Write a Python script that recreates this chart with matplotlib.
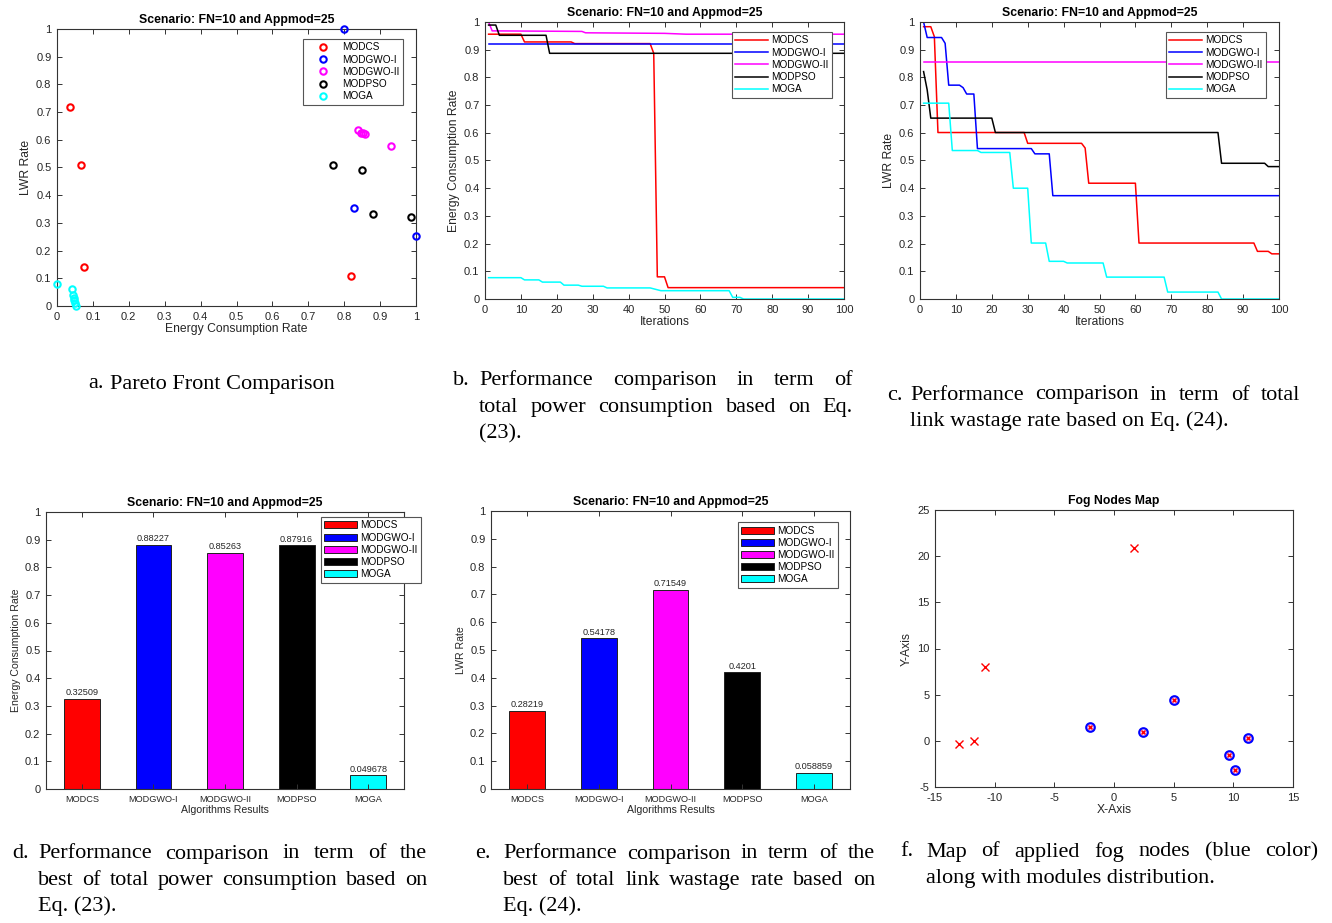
"""
Fog scenario results: pareto front, convergence curves, best values and node map.
"""

import matplotlib
matplotlib.use("Agg")
import matplotlib.pyplot as plt
from matplotlib.ticker import FuncFormatter, MultipleLocator

W, H = 1332, 923

ALGOS = ["MODCS", "MODGWO-I", "MODGWO-II", "MODPSO", "MOGA"]
COLORS = ["#ff0000", "#0000ff", "#ff00ff", "#000000", "#00ffff"]
TITLE = "Scenario: FN=10 and Appmod=25"

# ---- a. pareto front (energy, lwr) ----
pf_modcs_x = [0.035, 0.068, 0.076, 0.820]
pf_modcs_y = [0.720, 0.508, 0.139, 0.110]
pf_gwo1_x = [0.800, 0.826, 1.000]
pf_gwo1_y = [1.000, 0.355, 0.253]
pf_gwo2_x = [0.838, 0.848, 0.853, 0.857, 0.930]
pf_gwo2_y = [0.635, 0.625, 0.623, 0.622, 0.578]
pf_pso_x = [0.770, 0.850, 0.880, 0.987]
pf_pso_y = [0.508, 0.491, 0.332, 0.322]
pf_ga_x = [0.000, 0.042, 0.044, 0.046, 0.048, 0.050, 0.053]
pf_ga_y = [0.080, 0.063, 0.040, 0.030, 0.020, 0.012, 0.000]

# ---- b. energy consumption per iteration (vertices of the curves) ----
b_modcs_it = [1, 10, 11, 24, 25, 46, 47, 48, 50, 51, 100]
b_modcs_val = [0.956, 0.956, 0.928, 0.928, 0.922, 0.922, 0.887, 0.080, 0.080, 0.041, 0.041]
b_gwo1_it = [1, 100]
b_gwo1_val = [0.919, 0.919]
b_gwo2_it = [1, 2, 27, 28, 50, 56, 100]
b_gwo2_val = [1.000, 0.968, 0.966, 0.961, 0.959, 0.956, 0.956]
b_pso_it = [1, 3, 4, 17, 18, 100]
b_pso_val = [0.989, 0.989, 0.952, 0.952, 0.887, 0.887]
b_ga_it = [1, 10, 11, 15, 16, 21, 22, 26, 27, 33, 34, 46, 49, 68, 69, 71, 72, 100]
b_ga_val = [0.077, 0.077, 0.069, 0.069, 0.061, 0.061, 0.050, 0.050, 0.046, 0.046,
            0.040, 0.040, 0.030, 0.030, 0.006, 0.006, 0.000, 0.000]

# ---- c. lwr per iteration ----
c_modcs_it = [1, 3, 4, 5, 29, 30, 45, 46, 47, 60, 61, 93, 94, 97, 98, 100]
c_modcs_val = [0.983, 0.983, 0.947, 0.601, 0.601, 0.562, 0.562, 0.545, 0.418, 0.418,
               0.202, 0.202, 0.172, 0.172, 0.163, 0.163]
c_gwo1_it = [1, 2, 6, 7, 8, 11, 12, 13, 15, 16, 31, 32, 36, 37, 100]
c_gwo1_val = [1.000, 0.944, 0.944, 0.923, 0.772, 0.772, 0.763, 0.740, 0.740, 0.543,
              0.543, 0.524, 0.524, 0.373, 0.373]
c_gwo2_it = [1, 100]
c_gwo2_val = [0.857, 0.857]
c_pso_it = [1, 2, 3, 20, 21, 83, 84, 96, 97, 100]
c_pso_val = [0.821, 0.755, 0.653, 0.653, 0.601, 0.601, 0.490, 0.490, 0.478, 0.478]
c_ga_it = [1, 8, 9, 16, 17, 25, 26, 30, 31, 35, 36, 40, 41, 51, 52, 68, 69, 83, 84, 100]
c_ga_val = [0.707, 0.707, 0.536, 0.536, 0.529, 0.529, 0.400, 0.400, 0.202, 0.202,
            0.136, 0.136, 0.130, 0.130, 0.079, 0.079, 0.025, 0.025, 0.000, 0.000]

# ---- d/e. best values ----
best_energy = [0.32509, 0.88227, 0.85263, 0.87916, 0.049678]
best_lwr = [0.28219, 0.54178, 0.71549, 0.4201, 0.058859]

# ---- f. fog nodes map ----
fog_x = [-2.0, 2.4, 5.0, 9.6, 10.1, 11.2]
fog_y = [1.5, 0.95, 4.45, -1.5, -3.2, 0.35]
module_x = [-13.0, -11.7, -10.8, 1.65]
module_y = [-0.35, -0.05, 8.05, 20.85]

AX_GRAY = "#333333"
TXT_GRAY = "#262626"

plt.rcParams["font.family"] = ["Liberation Sans", "DejaVu Sans"]

fig = plt.figure(figsize=(W / 100, H / 100), dpi=100)


def add_axes(left, top, right, bottom):
    return fig.add_axes([left / W, 1 - bottom / H, (right - left) / W, (bottom - top) / H])


def style(ax, title=None, xlabel=None, ylabel=None, lab_size=8.7):
    for s in ax.spines.values():
        s.set_color(AX_GRAY)
        s.set_linewidth(0.8)
    ax.tick_params(direction="in", top=True, right=True, length=3.5, width=0.7,
                   color=AX_GRAY, labelcolor=TXT_GRAY, labelsize=8, pad=4)
    ax.xaxis.set_major_formatter(FuncFormatter(lambda v, p: f"{v:g}"))
    ax.yaxis.set_major_formatter(FuncFormatter(lambda v, p: f"{v:g}"))
    if title:
        ax.set_title(title, fontsize=8.8, fontweight="bold", pad=4)
    if xlabel:
        ax.set_xlabel(xlabel, fontsize=lab_size, color=TXT_GRAY, labelpad=1)
    if ylabel:
        ax.set_ylabel(ylabel, fontsize=lab_size, color=TXT_GRAY, labelpad=3)


def legend(ax, handles, x, y):
    lg = ax.legend(handles, ALGOS, loc="upper left", bbox_to_anchor=(x, y),
                   fontsize=7.2, handlelength=3.3, handletextpad=0.3, labelspacing=0.22,
                   borderpad=0.35, borderaxespad=0, fancybox=False, framealpha=1,
                   edgecolor="#555555", numpoints=1)
    lg.get_frame().set_linewidth(0.8)
    return lg


# a. Pareto front
ax = add_axes(57, 29, 416, 306)
pts = []
for xs, ys, c in zip([pf_modcs_x, pf_gwo1_x, pf_gwo2_x, pf_pso_x, pf_ga_x],
                     [pf_modcs_y, pf_gwo1_y, pf_gwo2_y, pf_pso_y, pf_ga_y], COLORS):
    h, = ax.plot(xs, ys, "o", mfc="none", mec=c, ms=4.6, mew=1.5, clip_on=False, zorder=3)
    pts.append(h)
ax.set_xlim(0, 1)
ax.set_ylim(0, 1)
ax.xaxis.set_major_locator(MultipleLocator(0.1))
ax.yaxis.set_major_locator(MultipleLocator(0.1))
style(ax, TITLE, "Energy Consumption Rate", "LWR Rate")
legend(ax, pts, 0.685, 0.964)

# b. energy vs iterations
ax = add_axes(485, 22, 844, 299)
lines = []
for xs, ys, c in zip([b_modcs_it, b_gwo1_it, b_gwo2_it, b_pso_it, b_ga_it],
                     [b_modcs_val, b_gwo1_val, b_gwo2_val, b_pso_val, b_ga_val], COLORS):
    h, = ax.plot(xs, ys, color=c, lw=1.1)
    lines.append(h)
ax.set_xlim(0, 100)
ax.set_ylim(0, 1)
ax.xaxis.set_major_locator(MultipleLocator(10))
ax.yaxis.set_major_locator(MultipleLocator(0.1))
style(ax, TITLE, "Iterations", "Energy Consumption Rate")
legend(ax, lines, 0.688, 0.964)

# c. lwr vs iterations
ax = add_axes(920, 22, 1279, 299)
lines = []
for xs, ys, c in zip([c_modcs_it, c_gwo1_it, c_gwo2_it, c_pso_it, c_ga_it],
                     [c_modcs_val, c_gwo1_val, c_gwo2_val, c_pso_val, c_ga_val], COLORS):
    h, = ax.plot(xs, ys, color=c, lw=1.1)
    lines.append(h)
ax.set_xlim(0, 100)
ax.set_ylim(0, 1)
ax.xaxis.set_major_locator(MultipleLocator(10))
ax.yaxis.set_major_locator(MultipleLocator(0.1))
style(ax, TITLE, "Iterations", "LWR Rate")
legend(ax, lines, 0.685, 0.964)


# d/e. bar charts
def bar_panel(rect, values, ylabel, leg_xy):
    ax = add_axes(*rect)
    pos = list(range(1, len(ALGOS) + 1))
    bars = ax.bar(pos, values, width=0.5, color=COLORS, edgecolor="#222222", linewidth=0.7)
    for p, v in zip(pos, values):
        ax.text(p, v + 0.006, f"{v:g}", ha="center", va="bottom", fontsize=6.6, color=TXT_GRAY)
    ax.set_xlim(0.5, 5.5)
    ax.set_ylim(0, 1)
    ax.set_xticks(pos)
    ax.yaxis.set_major_locator(MultipleLocator(0.1))
    style(ax, TITLE, "Algorithms Results", ylabel, lab_size=7.6)
    ax.set_xticklabels(ALGOS, fontsize=6.6)
    lg = legend(ax, bars, *leg_xy)
    lg.set_clip_on(False)
    return ax


bar_panel((46, 512, 404, 789), best_energy, "Energy Consumption Rate", (0.768, 0.982))
bar_panel((491, 511, 850, 789), best_lwr, "LWR Rate", (0.688, 0.96))

# f. fog nodes map
ax = add_axes(935, 510, 1293, 787)
ax.plot(module_x, module_y, "x", color="#ff0000", ms=6, mew=1.0)
ax.plot(fog_x, fog_y, "o", mfc="#f4c0f0", mec="#0000ff", ms=6.2, mew=1.5)
ax.plot(fog_x, fog_y, "x", color="#ff0000", ms=3, mew=1.0)
ax.set_xlim(-15, 15)
ax.set_ylim(-5, 25)
ax.xaxis.set_major_locator(MultipleLocator(5))
ax.yaxis.set_major_locator(MultipleLocator(5))
style(ax, "Fog Nodes Map", "X-Axis", "Y-Axis")

# ---- captions (serif, justified lines like the paper) ----
CAP = dict(fontsize=16, family=["Liberation Serif", "DejaVu Serif"], color="black", va="center")
renderer = fig.canvas.get_renderer()


def caption(label, x_label, x_text, x_right, y0, lines, dy=26.3):
    fig.text(x_label / W, 1 - y0 / H, label, **CAP)
    for i, (line, just) in enumerate(lines):
        y = 1 - (y0 + i * dy) / H
        if not just:
            fig.text(x_text / W, y, line, **CAP)
            continue
        words = line.split()
        texts = [fig.text(0, y, w, **CAP) for w in words]
        widths = [t.get_window_extent(renderer).width for t in texts]
        gap = (x_right - x_text - sum(widths)) / (len(words) - 1)
        x = x_text
        for t, w in zip(texts, widths):
            t.set_x(x / W)
            x += w + gap


caption("a.", 88, 110, 348, 384, [("Pareto Front Comparison", False)])
caption("b.", 453, 479, 853, 381, [("Performance comparison in term of", True),
                                   ("total power consumption based on Eq.", True),
                                   ("(23).", False)])
caption("c.", 887, 910, 1300, 395, [("Performance comparison in term of total", True),
                                    ("link wastage rate based on Eq. (24).", False)])
caption("d.", 12, 38, 427, 854, [("Performance comparison in term of the", True),
                                 ("best of total power consumption based on", True),
                                 ("Eq. (23).", False)])
caption("e.", 475, 503, 875, 854, [("Performance comparison in term of the", True),
                                   ("best of total link wastage rate based on", True),
                                   ("Eq. (24).", False)])
caption("f.", 900, 926, 1318, 852, [("Map of applied fog nodes (blue color)", True),
                                    ("along with modules distribution.", False)])

fig.savefig("out.png", dpi=100)
